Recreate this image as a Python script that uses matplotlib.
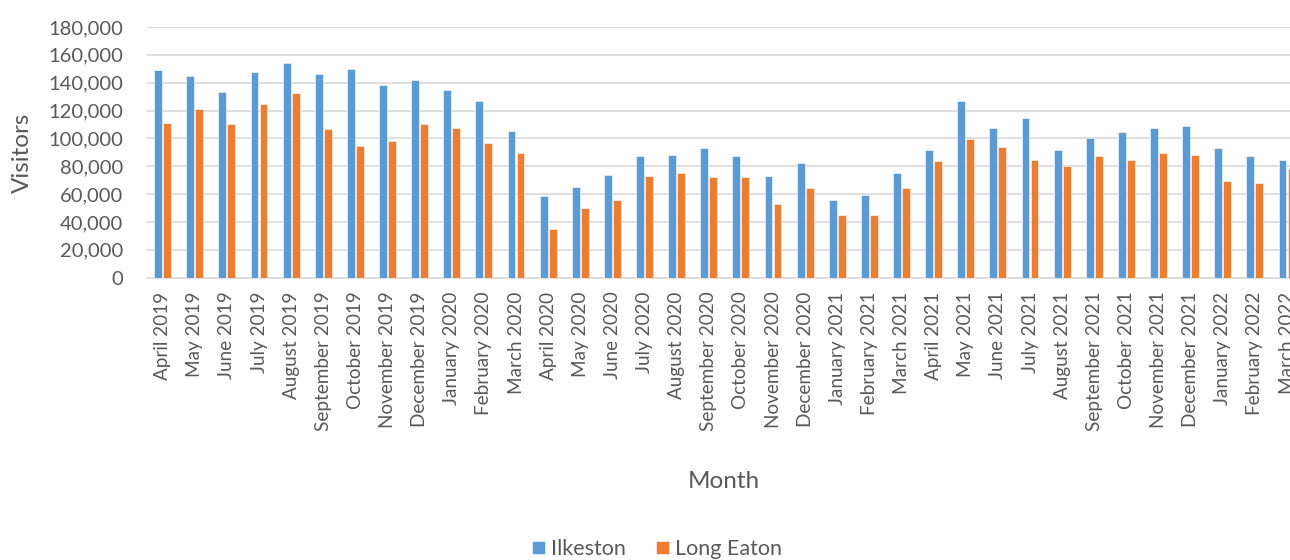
import numpy as np
import matplotlib.pyplot as plt
from matplotlib.ticker import FuncFormatter

months = ['April 2019', 'May 2019', 'June 2019', 'July 2019', 'August 2019',
          'September 2019', 'October 2019', 'November 2019', 'December 2019',
          'January 2020', 'February 2020', 'March 2020', 'April 2020', 'May 2020',
          'June 2020', 'July 2020', 'August 2020', 'September 2020', 'October 2020',
          'November 2020', 'December 2020', 'January 2021', 'February 2021',
          'March 2021', 'April 2021', 'May 2021', 'June 2021', 'July 2021',
          'August 2021', 'September 2021', 'October 2021', 'November 2021',
          'December 2021', 'January 2022', 'February 2022', 'March 2022']

ilkeston = [148900, 144900, 133400, 147800, 154200, 146300, 149900, 138400, 142200,
            134500, 126600, 105300, 58600, 65000, 73900, 87100, 88300, 92800,
            87100, 72900, 82500, 56100, 59700, 75100, 91900, 127100, 107500,
            114400, 91400, 100300, 104600, 107500, 109100, 93100, 87600, 84200]

long_eaton = [111100, 121400, 110100, 124500, 132900, 106800, 94500, 98100, 110600,
              107200, 96400, 89500, 35300, 49900, 55900, 72900, 75100, 72400,
              72400, 53000, 64500, 44900, 44900, 64300, 84000, 99600, 93800,
              84500, 80100, 87300, 84500, 89200, 88300, 69400, 68100, 78200]

blue = '#5B9BD5'
orange = '#ED7D31'
grey_text = '#595959'

plt.rcParams['font.family'] = ['Lato', 'DejaVu Sans']

fig = plt.figure(figsize=(12.9, 5.6), dpi=100)
# plot area runs slightly past the right edge of the figure
ax = fig.add_axes([146.6 / 1290, 1 - 277.7 / 560, 1156.5 / 1290, 250.7 / 560])

x = np.arange(len(months))
w = 0.245
ax.bar(x - 0.14, ilkeston, w, color=blue, edgecolor='white', linewidth=0.4, label='Ilkeston', zorder=3)
ax.bar(x + 0.14, long_eaton, w, color=orange, edgecolor='white', linewidth=0.4, label='Long Eaton', zorder=3)

ax.set_xlim(-0.5, len(months) - 0.5)
ax.set_ylim(0, 180000)
ax.set_yticks(np.arange(0, 180001, 20000))
ax.yaxis.set_major_formatter(FuncFormatter(lambda v, p: f'{int(v):,}'))
ax.set_xticks(x)
ax.set_xticklabels(months, rotation=90)

ax.grid(axis='y', color='#D9D9D9', linewidth=1.2, zorder=0)
for s in ['top', 'right', 'left']:
    ax.spines[s].set_visible(False)
ax.spines['bottom'].set_color('#D9D9D9')
ax.spines['bottom'].set_linewidth(1.2)
ax.tick_params(axis='x', length=0, labelsize=13.6, colors=grey_text, pad=10)
ax.tick_params(axis='y', length=0, labelsize=14.5, colors=grey_text, pad=17)

fig.text(22 / 1290, 1 - 153 / 560, 'Visitors', rotation=90, ha='center', va='center',
         fontsize=17.5, color=grey_text)
fig.text(724 / 1290, 1 - 481 / 560, 'Month', ha='center', va='center',
         fontsize=17.5, color=grey_text)

handles, labels = ax.get_legend_handles_labels()
fig.legend(handles, labels, loc='center', bbox_to_anchor=(657 / 1290, 1 - 549 / 560),
           ncol=2, frameon=False, fontsize=15.5, labelcolor=grey_text,
           handlelength=0.6, handleheight=0.6, handletextpad=0.3, columnspacing=1.4)

fig.savefig('out.png', dpi=100)
